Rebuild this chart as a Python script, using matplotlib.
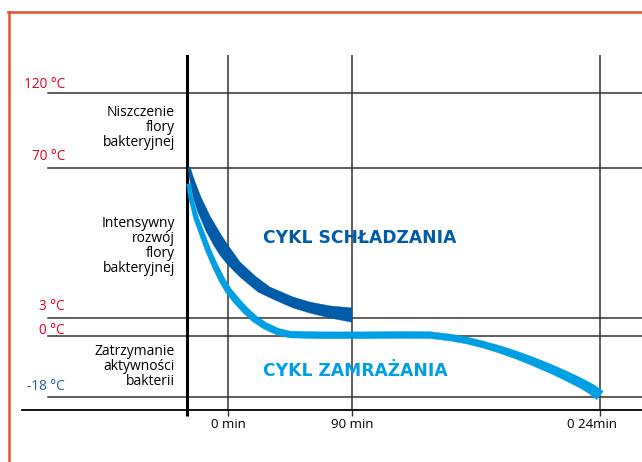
import numpy as np
import matplotlib.pyplot as plt
import matplotlib.transforms as mtransforms
from matplotlib.lines import Line2D

plt.rcParams['font.family'] = ['Open Sans', 'DejaVu Sans']

# schematic axes: piecewise scales (time in min, temperature in degC)
time_knots = [-150, -30, 0, 90, 1440, 1669]
time_pos = [22, 187, 228, 352, 600, 642]
temp_knots = [-21.8, -18, 0, 3, 70, 120, 145.3]
temp_pos = [52, 65, 126, 144, 294, 369, 407]

time_ticks = [0, 90, 1440]
time_labels = ['0 min', '90 min', '0 24min']

temp_levels = [120, 70, 3, 0, -18]
temp_labels = ['120 °C', '70 °C', '3 °C', '0 °C', '-18 °C']

zones = ['Niszczenie\nflory\nbakteryjnej',
         'Intensywny\nrozwój\nflory\nbakteryjnej',
         'Zatrzymanie\naktywności\nbakterii']
zone_temps = [97, 35, -9]

# cooling cycle (band: upper and lower edge)
cool_up_t = [-27.8, -24.1, -19.8, -13.2, -5.9, -0.7, 8.7, 19.6, 30.5, 47.2, 59.5, 74.0, 90]
cool_up_T = [70.7, 63.8, 57.0, 48.6, 41.0, 36.1, 28.0, 21.8, 16.8, 12.4, 10.1, 8.4, 7.5]
cool_lo_t = [-29.3, -27.8, -25.6, -22.0, -16.1, -10.2, -5.9, -0.7, 8.7, 21.8, 34.1,
             47.2, 59.5, 74.0, 90]
cool_lo_T = [70, 64.2, 57.0, 50.3, 41.9, 35.2, 31.1, 27.1, 21.3, 14.6, 11.0,
             7.5, 5.2, 3.0, 2.3]

# freezing cycle
freeze_t = [-28.9, -27.4, -25.6, -23.4, -19.8, -14.6, -9.5, -4.4, 0, 5.8, 12.3, 19.6, 26.9,
            36.3, 45.0, 66.8, 133.5, 351.3, 514.6, 623.5, 716.0, 803.1, 895.6, 988.2,
            1075.3, 1167.8, 1260.4, 1347.5, 1396.5, 1440]
freeze_T = [62.9, 57.0, 53.0, 47.7, 41.9, 33.4, 26.2, 20.0, 15.5, 11.0, 6.6, 2.8, 1.7,
            0.7, 0.25, 0.12, 0.12, 0.17, 0.15, -0.44, -1.33, -2.51, -3.98, -5.70,
            -7.52, -9.59, -11.89, -14.25, -15.79, -17.56]

dark = '#005ca9'
light = '#009fe3'
red = '#e3001b'
blue = '#1f5fa6'
grid = '#333333'

fig = plt.figure(figsize=(6.42, 4.62), dpi=100)
ax = fig.add_axes([22/642, 52/462, 620/642, 355/462])

ax.set_xscale('function', functions=(lambda t: np.interp(t, time_knots, time_pos),
                                     lambda p: np.interp(p, time_pos, time_knots)))
ax.set_yscale('function', functions=(lambda v: np.interp(v, temp_knots, temp_pos),
                                     lambda p: np.interp(p, temp_pos, temp_knots)))
ax.set_xlim(time_knots[0], time_knots[-1])
ax.set_ylim(temp_knots[0], temp_knots[-1])

for s in ['left', 'right', 'top']:
    ax.spines[s].set_visible(False)
ax.spines['bottom'].set_linewidth(1.3)
ax.set_yticks([])
ax.set_xticks(time_ticks, labels=time_labels)
ax.set_xticks([-30], minor=True)
ax.tick_params(axis='x', which='major', length=4.3, width=1, color=grid,
               labelsize=9.5, pad=1.5)
ax.tick_params(axis='x', which='minor', length=4, width=2.2, color='black')
last = ax.get_xticklabels()[-1]
last.set_transform(last.get_transform() +
                   mtransforms.ScaledTranslation(-8/100, 0, fig.dpi_scale_trans))

for T in temp_levels:
    ax.axhline(T, xmin=26/620, color=grid, lw=1.1, zorder=1)
for t in time_ticks:
    ax.axvline(t, color=grid, lw=1.1, zorder=1)
ax.axvline(-30, color='black', lw=2.2, zorder=1)

ax.fill(cool_up_t + cool_lo_t[::-1], cool_up_T + cool_lo_T[::-1], color=dark, lw=0.3,
        ec=dark, zorder=3)

# freezing curve as a band that gets slightly thicker along its length
pts = ax.transData.transform(np.column_stack([freeze_t, freeze_T]))
d = np.gradient(pts, axis=0)
d /= np.hypot(d[:, 0], d[:, 1])[:, None]
nrm = np.column_stack([-d[:, 1], d[:, 0]])
n = len(pts)
w = np.interp(np.arange(n), [0, 9, n - 9, n - 1], [3.8, 6.8, 6.8, 10.5])
poly = np.vstack([pts + nrm * w[:, None] / 2, (pts - nrm * w[:, None] / 2)[::-1]])
poly = ax.transData.inverted().transform(poly)
ax.fill(poly[:, 0], poly[:, 1], color=light, lw=0.3, ec=light, zorder=3)

lifts = [9, 11, 12, 6, 10]
for T, lab, lift in zip(temp_levels, temp_labels, lifts):
    ax.annotate(lab, xy=(43/620, T), xycoords=('axes fraction', 'data'),
                xytext=(0, lift*0.72), textcoords='offset points',
                ha='right', va='center', fontsize=9.8,
                color=blue if T < 0 else red)

for txt, T in zip(zones, zone_temps):
    ax.text(153/620, T, txt, transform=ax.get_yaxis_transform(),
            ha='right', va='center', fontsize=10, linespacing=1.0)

ax.text(25.4, 38.7, 'CYKL SCHŁADZANIA', color=dark, fontsize=12.3,
        fontweight='bold', va='center', family='DejaVu Sans')
ax.text(25.4, -10.3, 'CYKL ZAMRAŻANIA', color=light, fontsize=12.3,
        fontweight='bold', va='center', family='DejaVu Sans')

# orange frame
fig.add_artist(Line2D([8/642, 1], [1 - 12/462, 1 - 12/462], color='#e8502a', lw=1.8))
fig.add_artist(Line2D([9/642, 9/642], [0, 1 - 12/462], color='#e8502a', lw=1.8))

fig.savefig('out.png', dpi=100)
